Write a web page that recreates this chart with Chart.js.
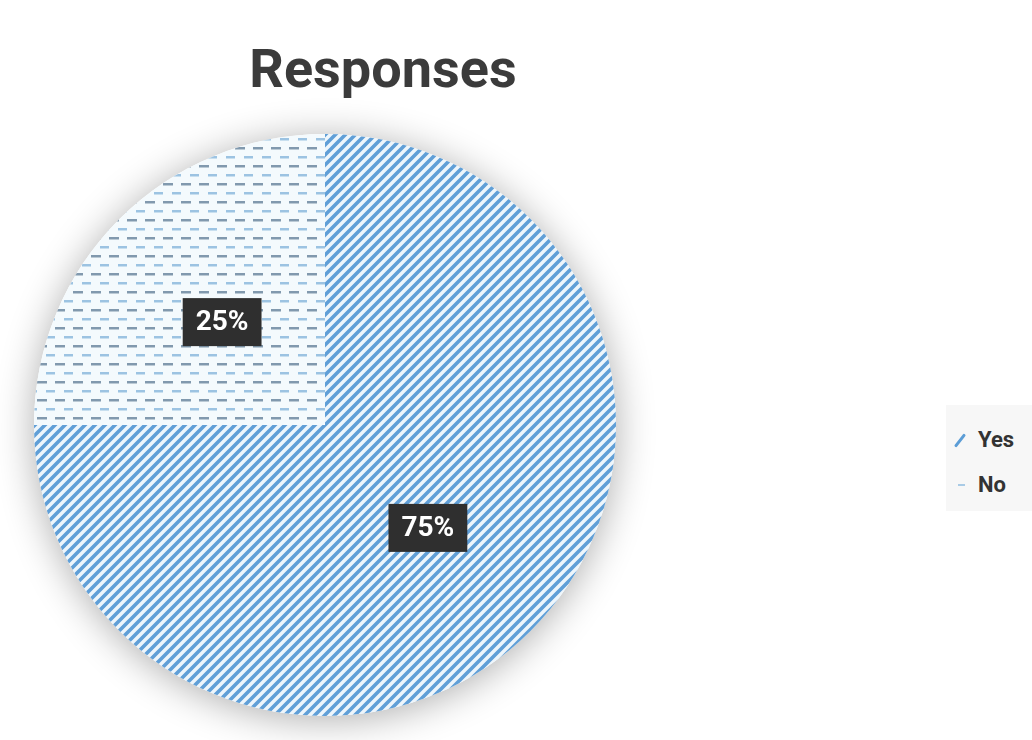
<!DOCTYPE html>
<html lang="en">
<head>
    <meta charset="UTF-8">
    <title>Responses</title>
    <style>
        body { margin: 0; background: #fff; font-family: Roboto, "Noto Sans", sans-serif; }
        .wrap { position: relative; width: 1032px; height: 740px; overflow: hidden; }
        #chart { position: absolute; left: 0; top: 0; }
        h1 {
            position: absolute; left: 0; top: 42px; width: 766px; margin: 0;
            text-align: center; font-size: 54px; line-height: 54px; font-weight: 700; color: #3b3b3b;
        }
        .legend {
            position: absolute; left: 946px; top: 405px; width: 100px; height: 106px;
            background: #f7f7f7;
        }
        .legend .item {
            position: absolute; left: 32px; font-size: 22px; font-weight: 700; color: #333;
            line-height: 22px;
        }
        .legend .mark { position: absolute; }
    </style>
</head>
<body>

<div class="wrap">
    <canvas id="chart" width="1032" height="740"></canvas>
    <h1>Responses</h1>
    <div class="legend" id="legend"></div>
</div>

<script src="https://cdn.jsdelivr.net/npm/chart.js"></script>
<script>
    // chart data
    const labels = ['Yes', 'No'];
    const values = [75, 25];

    // Yes: diagonal stripes
    function stripePattern() {
        const c = document.createElement('canvas');
        c.width = 10; c.height = 10;
        const g = c.getContext('2d');
        g.fillStyle = '#eef6fc';
        g.fillRect(0, 0, 10, 10);
        g.strokeStyle = '#609fd7';
        g.lineWidth = 3.6;
        g.beginPath();
        g.moveTo(-5, 5); g.lineTo(5, -5);
        g.moveTo(0, 10); g.lineTo(10, 0);
        g.moveTo(5, 15); g.lineTo(15, 5);
        g.stroke();
        return g.createPattern(c, 'repeat');
    }

    // No: rows of short dashes
    function dashPattern() {
        const c = document.createElement('canvas');
        c.width = 18; c.height = 18;
        const g = c.getContext('2d');
        g.fillStyle = '#f4fafd';
        g.fillRect(0, 0, 18, 18);
        g.fillStyle = '#8199ae';
        g.fillRect(1, 3, 10, 2.5);
        g.fillStyle = '#9cc3e2';
        g.fillRect(10, 12, 8, 2.5);
        g.fillRect(0, 12, 1, 2.5);
        return g.createPattern(c, 'repeat');
    }

    const fills = [stripePattern(), dashPattern()];

    // soft shadow behind the pie
    const pieShadow = {
        id: 'pieShadow',
        beforeDatasetsDraw(chart) {
            const arc = chart.getDatasetMeta(0).data[0];
            if (!arc) return;
            const ctx = chart.ctx;
            ctx.save();
            ctx.shadowColor = 'rgba(0,0,0,0.32)';
            ctx.shadowBlur = 38;
            ctx.shadowOffsetY = 4;
            ctx.fillStyle = '#fff';
            ctx.beginPath();
            ctx.arc(arc.x, arc.y, arc.outerRadius, 0, Math.PI * 2);
            ctx.fill();
            ctx.restore();
        }
    };

    // percentage labels in dark boxes
    const boxLabels = {
        id: 'boxLabels',
        afterDatasetsDraw(chart) {
            const ctx = chart.ctx;
            const total = values.reduce((a, b) => a + b, 0);
            chart.getDatasetMeta(0).data.forEach((arc, i) => {
                const p = arc.getCenterPoint();
                const text = Math.round(values[i] / total * 100) + '%';
                ctx.save();
                ctx.font = 'bold 28px Roboto, "Noto Sans", sans-serif';
                const w = ctx.measureText(text).width + 26;
                const h = 48;
                ctx.fillStyle = '#2f2f2f';
                ctx.fillRect(p.x - w / 2, p.y - h / 2, w, h);
                ctx.fillStyle = '#fff';
                ctx.textAlign = 'center';
                ctx.textBaseline = 'middle';
                ctx.fillText(text, p.x, p.y + 1);
                ctx.restore();
            });
        }
    };

    new Chart(document.getElementById('chart').getContext('2d'), {
        type: 'pie',
        data: {
            labels: labels,
            datasets: [{ data: values, backgroundColor: fills, borderWidth: 0, hoverOffset: 0 }]
        },
        options: {
            responsive: false,
            animation: false,
            layout: { padding: { left: 33, right: 415, top: 134, bottom: 24 } },
            plugins: {
                legend: { display: false },
                title: { display: false },
                tooltip: { enabled: false }
            }
        },
        plugins: [pieShadow, boxLabels]
    });

    // legend
    const legend = document.getElementById('legend');
    labels.forEach((name, i) => {
        const item = document.createElement('div');
        item.className = 'item';
        item.style.top = (24 + i * 45) + 'px';
        item.textContent = name;
        legend.appendChild(item);
        const mark = document.createElement('div');
        mark.className = 'mark';
        if (i === 0) {
            mark.style.cssText = 'left:6px;top:34px;width:16px;height:3px;background:#5c9dd6;border-radius:2px;transform:rotate(-52deg);';
        } else {
            mark.style.cssText = 'left:12px;top:79px;width:7px;height:2px;background:#a9cbe6;';
        }
        legend.appendChild(mark);
    });
</script>
</body>
</html>
